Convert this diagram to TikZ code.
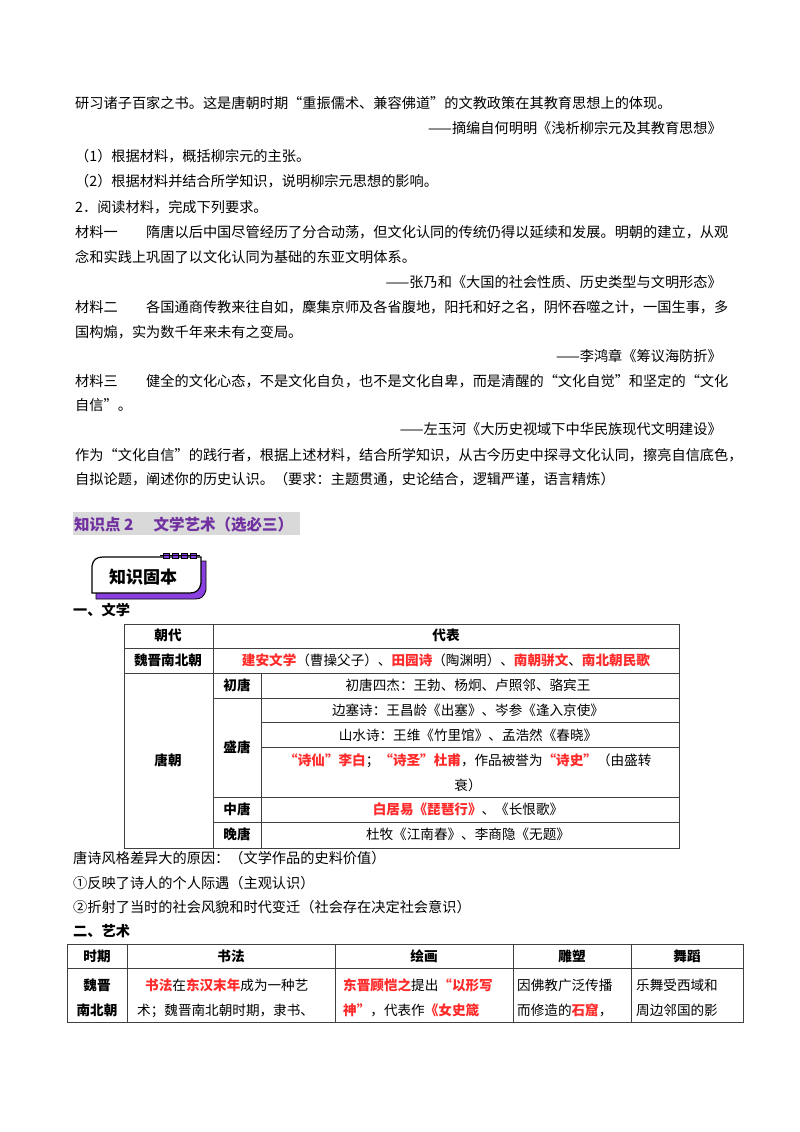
\documentclass[tikz,border=0pt]{standalone}
\usepackage{fontspec}
\setmainfont{Noto Sans CJK SC}
\usetikzlibrary{calc}
\definecolor{rd}{HTML}{FF2A2A}
\definecolor{pu}{HTML}{7030A0}
\definecolor{pb}{HTML}{8A3FE0}
\begin{document}
\begin{tikzpicture}[x=1pt,y=-1pt,
  t/.style={anchor=base west,inner sep=0,font=\fontsize{14.2}{16}\selectfont},
  r/.style={anchor=base east,inner sep=0,font=\fontsize{14.2}{16}\selectfont},
  tt/.style={anchor=base west,inner sep=0,font=\fontsize{13.6}{16}\selectfont},
  c/.style={anchor=base,inner sep=0,font=\fontsize{13.6}{16}\selectfont},
  h/.style={anchor=base,inner sep=0,font=\fontsize{13.6}{16}\selectfont\bfseries},
  g/.style={line width=0.8pt,draw=black!75}]
\useasboundingbox[fill=white] (0,0) rectangle (800,1132);
\newcommand\R[1]{\textcolor{rd}{\textbf{#1}}}
\node[t] (l1) at (75,108) {研习诸子百家之书。这是唐朝时期“重振儒术、兼容佛道”的文教政策在其教育思想上的体现。};
\node[r] (l2) at (722,133) {——摘编自何明明《浅析柳宗元及其教育思想》};
\node[t] (l3) at (75,161) {（1）根据材料，概括柳宗元的主张。};
\node[t] (l4) at (75,186) {（2）根据材料并结合所学知识，说明柳宗元思想的影响。};
\node[t] (l5) at (75,212) {2．阅读材料，完成下列要求。};
\node[t] (l6) at (75,237) {材料一\quad\quad 隋唐以后中国尽管经历了分合动荡，但文化认同的传统仍得以延续和发展。明朝的建立，从观};
\node[t] (l7) at (75,262) {念和实践上巩固了以文化认同为基础的东亚文明体系。};
\node[r] (l8) at (722,287) {——张乃和《大国的社会性质、历史类型与文明形态》};
\node[t] (l9) at (75,312) {材料二\quad\quad 各国通商传教来往自如，麇集京师及各省腹地，阳托和好之名，阴怀吞噬之计，一国生事，多};
\node[t] (l10) at (75,337) {国构煽，实为数千年来未有之变局。};
\node[r] (l11) at (722,361) {——李鸿章《筹议海防折》};
\node[t] (l12) at (75,386) {材料三\quad\quad 健全的文化心态，不是文化自负，也不是文化自卑，而是清醒的“文化自觉”和坚定的“文化};
\node[t] (l13) at (75,410) {自信”。};
\node[r] (l14) at (722,434) {——左玉河《大历史视域下中华民族现代文明建设》};
\node[t] (l15) at (75,460) {作为“文化自信”的践行者，根据上述材料，结合所学知识，从古今历史中探寻文化认同，擦亮自信底色，};
\node[t] (l16) at (75,484) {自拟论题，阐述你的历史认识。（要求：主题贯通，史论结合，逻辑严谨，语言精炼）};
% heading
\fill[black!15] (73,512) rectangle (300,535);
\node[t,font=\fontsize{15.5}{17}\selectfont\bfseries,text=pu] (hd) at (74,530) {知识点 2\hspace{20pt}文学艺术（选必三）};
% badge
\draw[fill=pb,line width=0.8pt] (96,567) .. controls (97,562) and (100,561) .. (106,561) -- (206,561) -- (206,590) .. controls (204,597) and (201,599) .. (195,599) -- (96,599) -- cycle;
\draw[fill=white,line width=1.2pt] (92,566) .. controls (93,560) and (96,557) .. (103,557) -- (201,557) -- (201,583) .. controls (200,590) and (196,593) .. (190,593) -- (92,593) -- cycle;
\foreach \i in {0,1,2,3}{\draw[line width=1pt,fill=pb] (163+\i*9,553) rectangle ++(6,5);}
\draw[line width=1pt] (160,555) -- (200,555);
\node[anchor=base,inner sep=0,font=\fontsize{17}{19}\selectfont\bfseries] (bd) at (143,583) {知识固本};
\node[t,font=\fontsize{14.2}{16}\selectfont\bfseries] (s1) at (73,615) {一、文学};
% table 1
\draw[g] (124,624) rectangle (679,848);
\draw[g] (124,648) -- (679,648);
\draw[g] (124,673) -- (679,673);
\draw[g] (213,624) -- (213,848);
\draw[g] (261,673) -- (261,848);
\foreach \y in {698,797,822} \draw[g] (213,\y) -- (679,\y);
\foreach \y in {722,747} \draw[g] (261,\y) -- (679,\y);
\node[h] (a1) at (168,640) {朝代};
\node[h] (a2) at (446,640) {代表};
\node[h] (a3) at (168,665) {魏晋南北朝};
\node[c] (a4) at (446,665) {\R{建安文学}（曹操父子）、\R{田园诗}（陶渊明）、\R{南朝骈文}、\R{南北朝民歌}};
\node[h] (a5) at (168,765) {唐朝};
\node[h] (b1) at (237,690) {初唐};
\node[h] (b2) at (237,752) {盛唐};
\node[h] (b3) at (237,814) {中唐};
\node[h] (b4) at (237,839) {晚唐};
\node[c] (c1) at (468,690) {初唐四杰：王勃、杨炯、卢照邻、骆宾王};
\node[c] (c2) at (468,715) {边塞诗：王昌龄《出塞》、岑参《逢入京使》};
\node[c] (c3) at (468,740) {山水诗：王维《竹里馆》、孟浩然《春晓》};
\node[tt] (c4) at (284,765) {\R{“诗仙”李白}；\R{“诗圣”杜甫}，作品被誉为\R{“诗史”}（由盛转};
\node[c] (c5) at (468,790) {衰）};
\node[c] (c6) at (468,814) {\R{白居易《琵琶行》}、《长恨歌》};
\node[c] (c7) at (468,839) {杜牧《江南春》、李商隐《无题》};
\node[t] (m1) at (73,863) {唐诗风格差异大的原因：（文学作品的史料价值）};
\node[t] (m2) at (73,888) {①反映了诗人的个人际遇（主观认识）};
\node[t] (m3) at (73,912) {②折射了当时的社会风貌和时代变迁（社会存在决定社会意识）};
\node[t,font=\fontsize{14.2}{16}\selectfont\bfseries] (s2) at (73,936) {二、艺术};
% table 2
\draw[g] (67,944) rectangle (743,1022);
\draw[g] (67,968) -- (743,968);
\foreach \x in {127,335,513,631} \draw[g] (\x,944) -- (\x,1022);
\node[h] (d1) at (97,961) {时期};
\node[h] (d2) at (231,961) {书法};
\node[h] (d3) at (424,961) {绘画};
\node[h] (d4) at (572,961) {雕塑};
\node[h] (d5) at (687,961) {舞蹈};
\node[h] (e1) at (97,990) {魏晋};
\node[h] (e2) at (97,1015) {南北朝};
\node[tt] (f1) at (145,990) {\R{书法}在\R{东汉末年}成为一种艺};
\node[tt] (f2) at (137,1015) {术；魏晋南北朝时期，隶书、};
\node[tt] (g1) at (343,990) {\R{东晋顾恺之}提出\R{“以形写}};
\node[tt] (g2) at (343,1015) {\R{神”}，代表作\R{《女史箴}};
\node[tt] (h1) at (517,990) {因佛教广泛传播};
\node[tt] (h2) at (517,1015) {而修造的\R{石窟}，};
\node[tt] (i1) at (636,990) {乐舞受西域和};
\node[tt] (i2) at (636,1015) {周边邻国的影};
\end{tikzpicture}
\end{document}
